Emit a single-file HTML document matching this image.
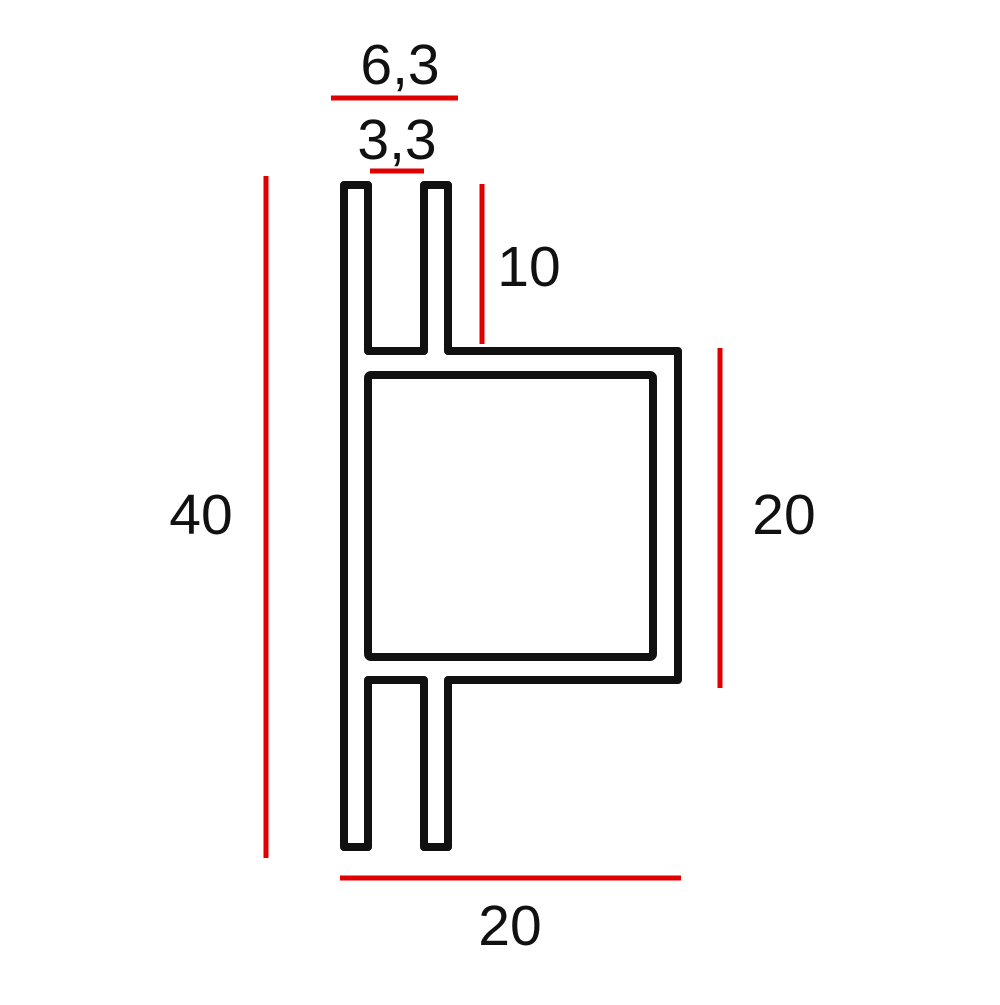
<!DOCTYPE html>
<html><head><style>html,body{margin:0;padding:0;background:#fff}</style></head>
<body>
<svg width="1000" height="1000" viewBox="0 0 1000 1000" xmlns="http://www.w3.org/2000/svg">
<rect width="1000" height="1000" fill="#fff"/>
<g fill="none" stroke="#111" stroke-width="8" stroke-linejoin="round">
<path d="M344,185 H368 V351 H424 V185 H448 V351 H678 V680 H448 V847 H424 V680 H368 V847 H344 Z"/>
<rect x="368" y="375" width="285" height="282" rx="3"/>
</g>
<g stroke="#e00000" stroke-width="5">
<line x1="331" y1="98" x2="458" y2="98"/>
<line x1="370" y1="171" x2="424" y2="171"/>
<line x1="266" y1="176" x2="266" y2="858"/>
<line x1="482" y1="184" x2="482" y2="344"/>
<line x1="720" y1="348" x2="720" y2="688"/>
<line x1="340" y1="878" x2="681" y2="878"/>
</g>
<g font-family="Liberation Sans, sans-serif" font-size="57" fill="#111" text-anchor="middle">
<text x="400" y="84">6,3</text>
<text x="397" y="159">3,3</text>
<text x="529" y="286">10</text>
<text x="201" y="534">40</text>
<text x="784" y="534">20</text>
<text x="510" y="945">20</text>
</g>
</svg>
</body></html>
